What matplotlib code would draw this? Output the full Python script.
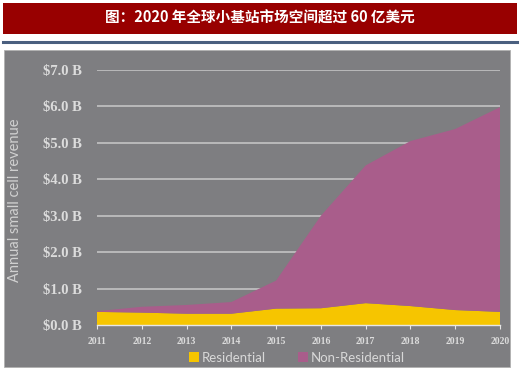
import matplotlib.pyplot as plt
from matplotlib.patches import Rectangle, Patch
from matplotlib.lines import Line2D

plt.rcParams['font.family'] = ['Noto Sans CJK SC', 'DejaVu Sans']

# data (billions USD)
years = [2011, 2012, 2013, 2014, 2015, 2016, 2017, 2018, 2019, 2020]
residential = [0.36, 0.34, 0.31, 0.31, 0.45, 0.46, 0.60, 0.52, 0.41, 0.36]
total = [0.38, 0.50, 0.55, 0.63, 1.22, 3.00, 4.38, 5.05, 5.38, 5.98]
non_residential = [t - r for t, r in zip(total, residential)]
y_ticks = [0, 1, 2, 3, 4, 5, 6, 7]
y_labels = ['$0.0 B', '$1.0 B', '$2.0 B', '$3.0 B', '$4.0 B', '$5.0 B', '$6.0 B', '$7.0 B']

title = '图：2020 年全球小基站市场空间超过 60 亿美元'

panel_col = '#7e7e81'
yellow = '#f6c500'
purple = '#a95d8b'
light = '#dcdcdc'

fig = plt.figure(figsize=(5.2, 3.73), dpi=100)
fig.patch.set_facecolor('white')

# title bar
fig.patches.append(Rectangle((3 / 520, 1 - 34 / 373), 514 / 520, 31 / 373,
                             transform=fig.transFigure, facecolor='#980000',
                             edgecolor='none', zorder=-1))
fig.text(0.5, 1 - 18 / 373, title, color='white', fontsize=10.5,
         fontweight='bold', ha='center', va='center')
fig.add_artist(Line2D([3 / 520, 517 / 520], [1 - 42 / 373, 1 - 42 / 373],
                      transform=fig.transFigure, color='#4a5f7f', lw=2.2))

# grey panel
fig.patches.append(Rectangle((4 / 520, 1 - 367 / 373), 506 / 520, 317 / 373,
                             transform=fig.transFigure, facecolor=panel_col,
                             edgecolor='#b0b0b0', lw=0.6, zorder=-1))

ax = fig.add_axes([97 / 520, 48 / 373, 403 / 520, 255 / 373])
ax.set_facecolor('none')
ax.set_zorder(2)

for y in y_ticks[1:]:
    ax.axhline(y, color='#c9c9c9', lw=1.1, zorder=1)

ax.stackplot(years, residential, non_residential, colors=[yellow, purple],
             zorder=2, lw=0)

ax.set_xlim(2011, 2020)
ax.set_ylim(0, 7)
for s in ['top', 'right', 'left']:
    ax.spines[s].set_visible(False)
ax.spines['bottom'].set_color('#e6e6e6')
ax.spines['bottom'].set_linewidth(1.0)
ax.spines['bottom'].set_zorder(3)

ax.set_yticks(y_ticks)
ax.set_yticklabels(y_labels, family='Liberation Serif', fontsize=10.5,
                   color=light, fontweight='bold')
ax.tick_params(axis='y', length=0, pad=11)
ax.set_xticks(years)
ax.set_xticklabels([str(y) for y in years], family='Liberation Serif',
                   fontsize=7, color=light, fontweight='bold')
ax.tick_params(axis='x', length=3, color='#e6e6e6', pad=6, direction='out')

fig.text(15 / 520, 1 - 200 / 373, 'Annual small cell revenue', rotation=90,
         color='#d0d0d0', fontsize=10.5, family='Lato', ha='center', va='center')

handles = [Patch(facecolor=yellow, edgecolor='none', label='Residential'),
           Patch(facecolor=purple, edgecolor='none', label='Non-Residential')]
leg = fig.legend(handles=handles, loc='center', bbox_to_anchor=(297 / 520, 1 - 358 / 373),
                 ncol=2, frameon=False, prop={'family': 'Lato', 'size': 9.5},
                 labelcolor='#d8d8d8', handlelength=0.8, handleheight=0.8,
                 handletextpad=0.2, columnspacing=2.4)
leg.set_zorder(3)

fig.savefig('out.png', dpi=100)
